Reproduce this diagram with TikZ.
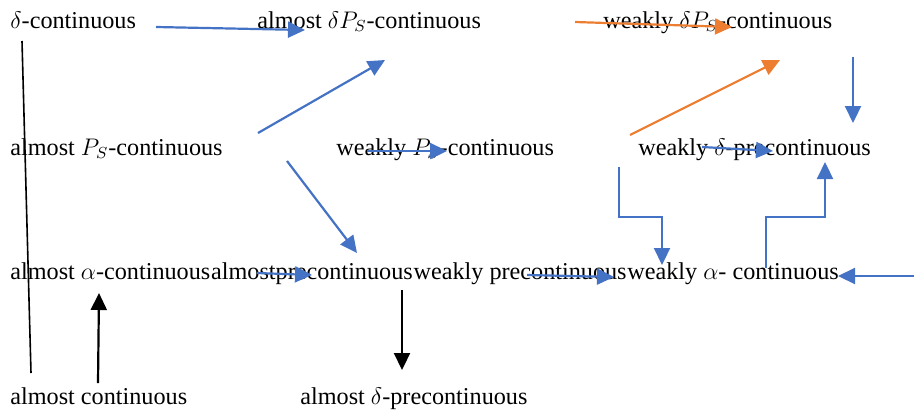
\documentclass[tikz,border=0pt]{standalone}
\usepackage{fontspec}
\setmainfont{Liberation Serif}
\usetikzlibrary{
    arrows.meta,
    positioning
}
\definecolor{msBlue}{RGB}{68,114,196}
\definecolor{msOrange}{RGB}{237,125,49}
\tikzset{
  term/.style  = {anchor=west, inner sep=0pt, text height=0.7em,
                  text depth=0.2em, font=\fontsize{12.1}{15}\selectfont},
  barr/.style  = {-{Triangle[length=8.5pt,width=8pt]}, msBlue, line width=1.1pt},
  oarr/.style  = {-{Triangle[length=8.5pt,width=8pt]}, msOrange, line width=1.1pt},
  karr/.style  = {-{Triangle[length=8.5pt,width=8pt]}, black, line width=1.1pt},
  kline/.style = {black, line width=0.8pt}
}

\begin{document}
\begin{tikzpicture}[x=0.5pt, y=-0.5pt]
  \useasboundingbox (0,0) rectangle (914,413);

  % terms
  \node[term] (dcont)  at (10,23)  {$\delta$-continuous};
  \node[term] (adps)   at (257,23) {almost $\delta P_S$-continuous};
  \node[term] (wdps)   at (603,23) {weakly $\delta P_S$-continuous};

  \node[term] (aps)    at (10,150)  {almost $P_S$-continuous};
  \node[term] (wps)    at (336,150) {weakly $P_S$-continuous};
  \node[term] (wdpre)  at (638,150) {weakly $\delta$-precontinuous};

  \node[term] (aalpha) at (10,274) {almost $\alpha$-continuous};
  \node[term, right=0pt of aalpha] (apre)   {almostprecontinuous};
  \node[term, right=0pt of apre]   (wpre)   {weakly precontinuous};
  \node[term, right=0pt of wpre]   (walpha) {weakly $\alpha$- continuous};

  \node[term] (acont)  at (10,399)  {almost continuous};
  \node[term] (adpre)  at (300,399) {almost $\delta$-precontinuous};

  % arrow ends
  \coordinate (dc-a)  at (156,27);  \coordinate (dc-b)  at (305,30);
  \coordinate (ap-a)  at (258,133); \coordinate (ap-b)  at (385,60);
  \coordinate (wd-a)  at (575,22);  \coordinate (wd-b)  at (732,27);
  \coordinate (wp-a)  at (630,135); \coordinate (wp-b)  at (780,60);
  \coordinate (rt-a)  at (853,57);  \coordinate (rt-b)  at (853,123);
  \coordinate (pr-a)  at (702,147); \coordinate (pr-b)  at (773,151);
  \coordinate (ws-a)  at (367,151); \coordinate (ws-b)  at (447,151);
  \coordinate (ad-a)  at (287,161); \coordinate (ad-b)  at (357,253);
  \coordinate (aa-a)  at (257,273); \coordinate (aa-b)  at (312,275);
  \coordinate (wr-a)  at (527,275); \coordinate (wr-b)  at (614,277);
  \coordinate (dn-a)  at (619,167); \coordinate (dn-b)  at (662,265);
  \coordinate (up-a)  at (766,268); \coordinate (up-b)  at (825,162);
  \coordinate (in-a)  at (914,276); \coordinate (in-b)  at (838,276);
  \coordinate (ln-a)  at (22,41);   \coordinate (ln-b)  at (31,373);
  \coordinate (ac-a)  at (98,383);  \coordinate (ac-b)  at (99,293);
  \coordinate (dp-a)  at (402,290); \coordinate (dp-b)  at (402,370);

  % blue arrows
  \draw[barr] (dc-a) -- (dc-b);
  \draw[barr] (ap-a) -- (ap-b);
  \draw[barr] (rt-a) -- (rt-b);
  \draw[barr] (pr-a) -- (pr-b);
  \draw[barr] (ws-a) -- (ws-b);
  \draw[barr] (ad-a) -- (ad-b);
  \draw[barr] (aa-a) -- (aa-b);
  \draw[barr] (wr-a) -- (wr-b);
  \draw[barr] (in-a) -- (in-b);
  \draw[barr] (dn-a) -- ++(0,50) -| (dn-b);
  \draw[barr] (up-a) -- ++(0,-51) -| (up-b);

  % orange arrows
  \draw[oarr] (wd-a) -- (wd-b);
  \draw[oarr] (wp-a) -- (wp-b);

  % black
  \draw[kline] (ln-a) -- (ln-b);
  \draw[karr] (ac-a) -- (ac-b);
  \draw[karr] (dp-a) -- (dp-b);
\end{tikzpicture}
\end{document}
